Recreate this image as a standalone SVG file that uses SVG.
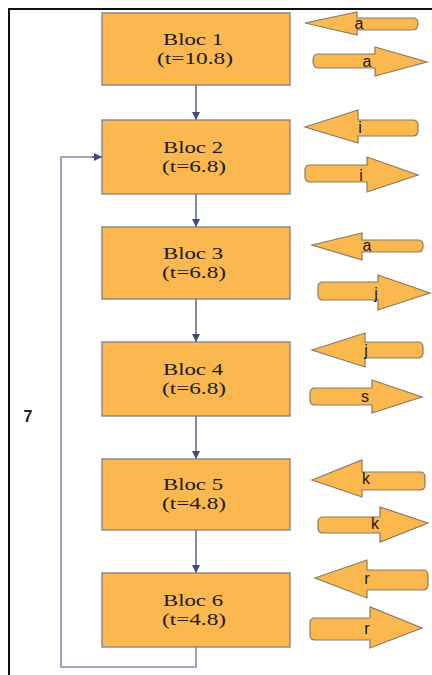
<svg xmlns="http://www.w3.org/2000/svg" width="432" height="675" viewBox="0 0 432 675">
  <style>
    .box { fill: #fbb84e; stroke: #7f7f86; stroke-width: 1.3; }
    .btxt { font-family: "Liberation Serif", "Times New Roman", serif; font-size: 17px; fill: #1a1a1a; text-anchor: middle; }
    .conn { fill: none; stroke: #3f4a80; stroke-width: 1.3; }
    .loop { fill: none; stroke: #8a8aaa; stroke-width: 1.6; }
    .barrow { fill: #fbb84e; stroke: #8a7a62; stroke-width: 1.2; stroke-linejoin: miter; }
    .lbl { font-family: "Liberation Sans", Arial, sans-serif; font-size: 16px; fill: #1a1a1a; text-anchor: middle; }
    .frame { fill: none; stroke: #111; stroke-width: 2; }
  </style>
  <defs>
    <marker id="head" viewBox="0 0 8 8" refX="8" refY="4" markerWidth="8" markerHeight="8" markerUnits="userSpaceOnUse" orient="auto">
      <path d="M0,0 L8,4 L0,8 Z" fill="#3f4a80"/>
    </marker>
  </defs>

  <rect width="432" height="675" fill="#ffffff"/>

  <!-- outer frame (only top and left edges visible) -->
  <path class="frame" d="M9,675 L9,9 L432,9"/>

  <text x="28" y="422" style="font-family:'Liberation Sans',Arial,sans-serif;font-size:16px;font-weight:bold;fill:#222;text-anchor:middle">7</text>

  <!-- connectors between blocks -->
  <g id="connectors">
    <path class="conn" d="M196,85 L196,120" marker-end="url(#head)"/>
    <path class="conn" d="M196,194 L196,227" marker-end="url(#head)"/>
    <path class="conn" d="M196,299 L196,342" marker-end="url(#head)"/>
    <path class="conn" d="M196,416 L196,459" marker-end="url(#head)"/>
    <path class="conn" d="M196,530 L196,573" marker-end="url(#head)"/>
    <path class="loop" d="M196,647 L196,667 L61,667 L61,157 L95,157"/>
    <path class="conn" d="M92,157 L102,157" marker-end="url(#head)"/>
  </g>

  <!-- blocks -->
  <g id="bloc1">
    <rect class="box" x="102" y="13" width="188" height="72"/>
    <text class="btxt" x="193" y="45" textLength="60" lengthAdjust="spacingAndGlyphs">Bloc 1</text>
    <text class="btxt" x="195" y="64" textLength="76" lengthAdjust="spacingAndGlyphs">(t=10.8)</text>
  </g>
  <g id="bloc2">
    <rect class="box" x="102" y="120" width="188" height="74"/>
    <text class="btxt" x="193" y="153" textLength="60" lengthAdjust="spacingAndGlyphs">Bloc 2</text>
    <text class="btxt" x="194" y="172" textLength="64" lengthAdjust="spacingAndGlyphs">(t=6.8)</text>
  </g>
  <g id="bloc3">
    <rect class="box" x="102" y="227" width="188" height="72"/>
    <text class="btxt" x="193" y="259" textLength="60" lengthAdjust="spacingAndGlyphs">Bloc 3</text>
    <text class="btxt" x="194" y="278" textLength="64" lengthAdjust="spacingAndGlyphs">(t=6.8)</text>
  </g>
  <g id="bloc4">
    <rect class="box" x="102" y="342" width="188" height="74"/>
    <text class="btxt" x="193" y="375" textLength="60" lengthAdjust="spacingAndGlyphs">Bloc 4</text>
    <text class="btxt" x="194" y="394" textLength="64" lengthAdjust="spacingAndGlyphs">(t=6.8)</text>
  </g>
  <g id="bloc5">
    <rect class="box" x="102" y="459" width="188" height="71"/>
    <text class="btxt" x="193" y="490" textLength="60" lengthAdjust="spacingAndGlyphs">Bloc 5</text>
    <text class="btxt" x="194" y="509" textLength="64" lengthAdjust="spacingAndGlyphs">(t=4.8)</text>
  </g>
  <g id="bloc6">
    <rect class="box" x="102" y="573" width="188" height="74"/>
    <text class="btxt" x="193" y="606" textLength="60" lengthAdjust="spacingAndGlyphs">Bloc 6</text>
    <text class="btxt" x="194" y="625" textLength="64" lengthAdjust="spacingAndGlyphs">(t=4.8)</text>
  </g>

  <!-- variable flow arrows: left = read, right = write -->
  <g id="flow1">
    <path class="barrow" d="M305,23 L357,12 L357,18 L413,18 Q418,18 418,23 Q418,30 413,30 L357,30 L357,35 Z"/>
    <text class="lbl" x="359" y="29">a</text>
    <path class="barrow" d="M318,54 L375,54 L375,47 L427,62 L375,76 L375,68 L318,68 Q313,68 313,61 Q313,54 318,54 Z"/>
    <text class="lbl" x="367" y="67">a</text>
  </g>
  <g id="flow2">
    <path class="barrow" d="M305,127 L358,110 L358,120 L413,120 Q418,120 418,125 L418,131 Q418,136 413,136 L358,136 L358,143 Z"/>
    <text class="lbl" x="360" y="133">i</text>
    <path class="barrow" d="M310,165 L367,165 L367,157 L418,175 L367,192 L367,182 L310,182 Q305,182 305,177 L305,170 Q305,165 310,165 Z"/>
    <text class="lbl" x="361" y="181">i</text>
  </g>
  <g id="flow3">
    <path class="barrow" d="M312,245 L362,233 L362,240 L418,240 Q423,240 423,245 L423,247 Q423,252 418,252 L362,252 L362,260 Z"/>
    <text class="lbl" x="367" y="251">a</text>
    <path class="barrow" d="M323,282 L378,282 L378,275 L430,293 L378,310 L378,300 L323,300 Q318,300 318,295 L318,287 Q318,282 323,282 Z"/>
    <text class="lbl" x="376" y="299">j</text>
  </g>
  <g id="flow4">
    <path class="barrow" d="M312,350 L365,333 L365,342 L418,342 Q423,342 423,347 L423,353 Q423,358 418,358 L365,358 L365,367 Z"/>
    <text class="lbl" x="366" y="356">j</text>
    <path class="barrow" d="M315,388 L372,388 L372,380 L422,397 L372,413 L372,405 L315,405 Q310,405 310,400 L310,393 Q310,388 315,388 Z"/>
    <text class="lbl" x="365" y="402">s</text>
  </g>
  <g id="flow5">
    <path class="barrow" d="M312,480 L362,460 L362,472 L420,472 Q425,472 425,477 L425,485 Q425,490 420,490 L362,490 L362,497 Z"/>
    <text class="lbl" x="366" y="484">k</text>
    <path class="barrow" d="M323,517 L380,517 L380,507 L428,523 L380,542 L380,533 L323,533 Q318,533 318,528 L318,522 Q318,517 323,517 Z"/>
    <text class="lbl" x="375" y="529">k</text>
  </g>
  <g id="flow6">
    <path class="barrow" d="M315,578 L367,560 L367,570 L423,570 Q428,570 428,575 L428,585 Q428,590 423,590 L367,590 L367,598 Z"/>
    <text class="lbl" x="367" y="584">r</text>
    <path class="barrow" d="M315,618 L370,618 L370,607 L422,628 L370,648 L370,640 L315,640 Q310,640 310,635 L310,623 Q310,618 315,618 Z"/>
    <text class="lbl" x="367" y="634">r</text>
  </g>
</svg>
